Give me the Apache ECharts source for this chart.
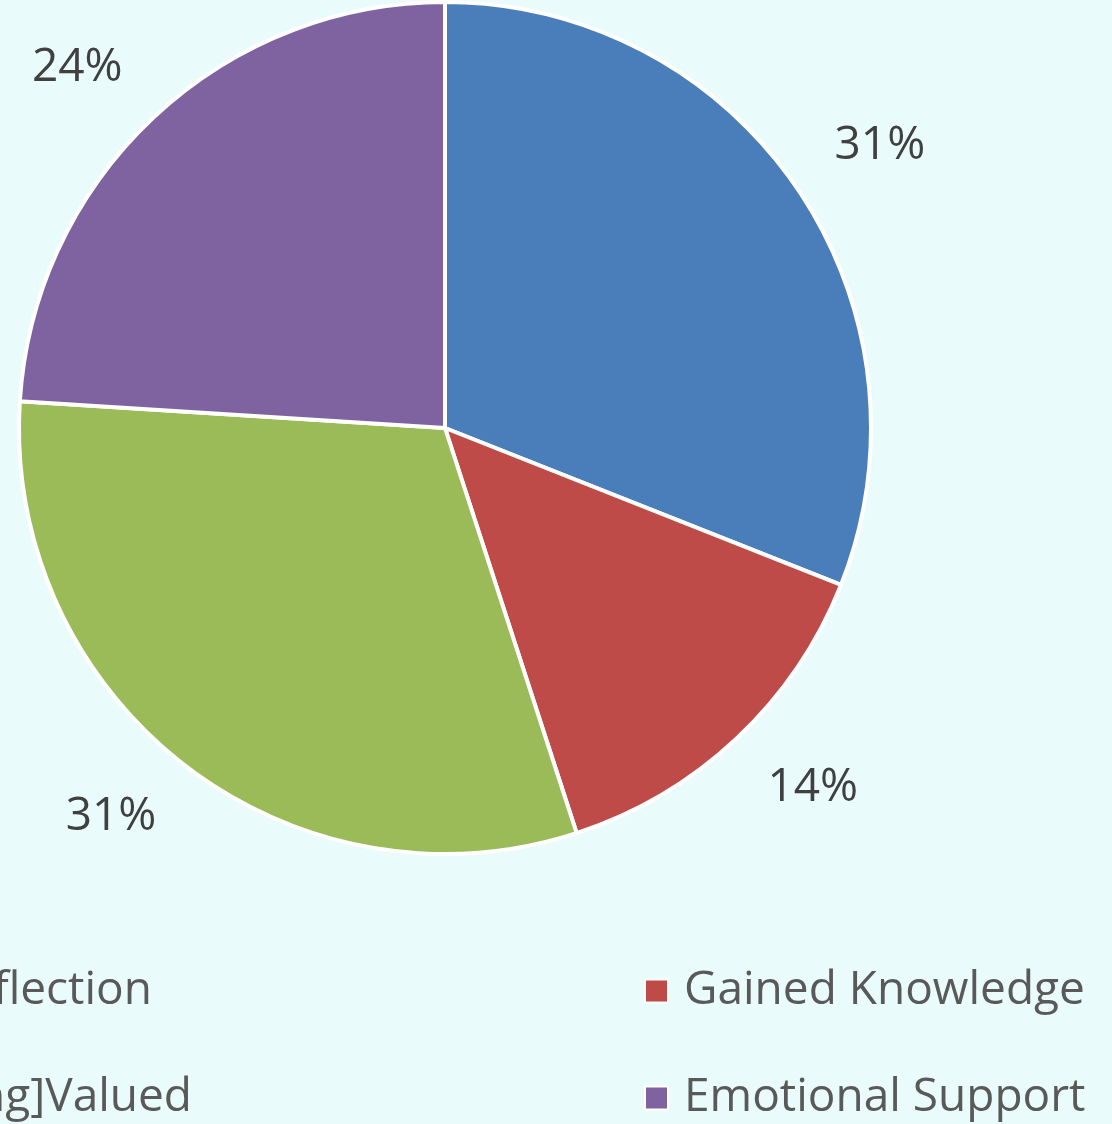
<!DOCTYPE html>
<html>
<head>
<meta charset="utf-8">
<script src="https://cdn.jsdelivr.net/npm/echarts@6/dist/echarts.min.js"></script>
<style>
  html, body { margin: 0; padding: 0; background: #eafbfb; }
  #chart { width: 1112px; height: 1124px; }
</style>
</head>
<body>
<div id="chart"></div>
<script>
// 分类和数值（百分比）
let categories = ['Self-Reflection', 'Gained Knowledge', '[Feeling]Valued', 'Emotional Support']
let values = [31, 14, 31, 24]
let colors = ['#4a7ebb', '#be4b48', '#9bbb59', '#7f63a1']

let chart = echarts.init(document.getElementById('chart'))
let textFont = 'Open Sans'
let pieCenter = [445, 428]

// 每个图例项单独放，左列被画布裁掉
function legendItem(name, pos) {
  return Object.assign({
    data: [name],
    icon: 'rect',
    itemWidth: 23,
    itemHeight: 23,
    itemStyle: { borderColor: '#ffffff', borderWidth: 2 },
    textStyle: {
      fontFamily: textFont,
      fontSize: 46,
      color: '#595959',
      lineHeight: 50,
      padding: [0, 0, 0, 11]
    }
  }, pos)
}

chart.setOption({
  backgroundColor: '#eafbfb',
  color: colors,
  legend: [
    legendItem(categories[0], { right: 1112 - 157, top: 961 }),
    legendItem(categories[2], { right: 1112 - 197, top: 1068 }),
    legendItem(categories[1], { left: 639, top: 961 }),
    legendItem(categories[3], { left: 639, top: 1068 })
  ],
  series: [{
    type: 'pie',
    center: pieCenter,
    radius: 426,
    startAngle: 90,
    clockwise: true,
    avoidLabelOverlap: false,
    itemStyle: {
      borderColor: '#ffffff',
      borderWidth: 4
    },
    label: {
      show: true,
      position: 'outside',
      distanceToLabelLine: 0,
      fontFamily: textFont,
      fontSize: 46,
      lineHeight: 34,
      color: '#404040',
      formatter: (p) => Math.round(p.percent) + '%'
    },
    labelLine: {
      show: false,
      length: 45,
      length2: 0
    },
    // 标签靠近饼图的角对准扇区中线
    labelLayout: (params) => {
      let r = params.labelRect
      let above = r.y + r.height / 2 < pieCenter[1]
      return { verticalAlign: above ? 'bottom' : 'top' }
    },
    emphasis: { scale: false },
    data: categories.map((name, i) => {
      return { name: name, value: values[i] }
    })
  }]
})
</script>
</body>
</html>
